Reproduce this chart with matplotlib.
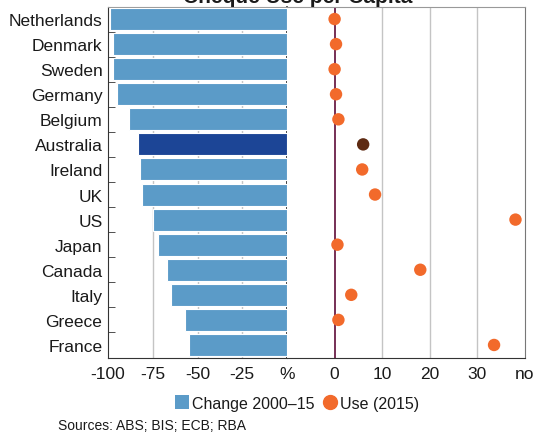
import matplotlib
matplotlib.use("Agg")
import matplotlib.pyplot as plt
from matplotlib.lines import Line2D
from matplotlib.patches import Patch

plt.rcParams['font.family'] = ['Liberation Sans', 'DejaVu Sans']
plt.rcParams['text.color'] = "#1a1a1a"
plt.rcParams['xtick.labelcolor'] = "#1a1a1a"
plt.rcParams['ytick.labelcolor'] = "#1a1a1a"

countries = ["Netherlands", "Denmark", "Sweden", "Germany", "Belgium", "Australia",
             "Ireland", "UK", "US", "Japan", "Canada", "Italy", "Greece", "France"]
change_2000_15 = [-99, -97, -97, -95, -88, -83, -82, -81, -75, -72, -67, -65, -57, -55]
use_2015 = [0.0, 0.3, 0.0, 0.3, 0.8, 6.0, 5.8, 8.5, 38.0, 0.6, 18.0, 3.5, 0.8, 33.5]
highlight = "Australia"

left_ticks = [-100, -75, -50, -25, 0]
left_ticklabels = ["-100", "-75", "-50", "-25", "%"]
right_ticks = [0, 10, 20, 30, 40]
right_ticklabels = ["0", "10", "20", "30", "no"]

light_blue = "#5b9bc8"
dark_blue = "#1c4596"
orange = "#f26a2b"
brown = "#5e2a12"
grid_col = "#c4c4c4"

fig = plt.figure(figsize=(5.35, 4.35), dpi=100)
ax1 = fig.add_axes([108 / 535, 76.5 / 435, 179 / 535, 351 / 435])
ax2 = fig.add_axes([287 / 535, 76.5 / 435, 238 / 535, 351 / 435])

ypos = list(range(len(countries)))

# bars: change 2000-15
bar_cols = [dark_blue if c == highlight else light_blue for c in countries]
ax1.barh(ypos, change_2000_15, height=0.88, color=bar_cols, edgecolor="white",
         linewidth=0.8, zorder=3)
ax1.set_xlim(-100, 0)
ax1.set_ylim(len(countries) - 0.5, -0.5)
ax1.set_xticks(left_ticks)
ax1.set_xticklabels(left_ticklabels)
ax1.set_yticks(ypos)
ax1.set_yticklabels(countries)
ax1.tick_params(axis="y", length=0, labelsize=12.5, pad=4)
ax1.tick_params(axis="x", length=0, labelsize=12.5, pad=6)
# minor ticks at row boundaries
ax1.set_yticks([y + 0.5 for y in ypos[:-1]], minor=True)
ax1.tick_params(axis="y", which="minor", direction="in", length=5, color="#333333")
for x in [-75, -50, -25]:
    ax1.axvline(x, color=grid_col, linewidth=1, zorder=1)
for s in ["left", "bottom"]:
    ax1.spines[s].set_color("#333333")
ax1.spines["top"].set_color("#999999")
ax1.spines["right"].set_color("#222222")
ax1.spines["right"].set_linewidth(1.2)

# dots: use 2015
dot_cols = [brown if c == highlight else orange for c in countries]
ax2.scatter(use_2015, ypos, s=80, color=dot_cols, zorder=4, linewidths=0)
ax2.set_xlim(-10, 40)
ax2.set_ylim(len(countries) - 0.5, -0.5)
ax2.set_xticks(right_ticks)
ax2.set_xticklabels(right_ticklabels)
ax2.set_yticks([])
ax2.tick_params(axis="x", length=0, labelsize=12.5, pad=6)
for x in [10, 20, 30]:
    ax2.axvline(x, color=grid_col, linewidth=1, zorder=1)
ax2.axvline(0, color="#6b1f48", linewidth=1.3, zorder=2)
ax2.spines["left"].set_visible(False)
ax2.spines["bottom"].set_color("#333333")
ax2.spines["top"].set_color("#999999")
ax2.spines["right"].set_color("#777777")

# title sits partly above the canvas, as in the original crop
fig.text(298 / 535, 1 - 3 / 435, "Cheque Use per Capita", ha="center", va="baseline",
         fontsize=15, fontweight="bold")

handles = [Patch(facecolor=light_blue, edgecolor="none", label="Change 2000\u201315"),
           Line2D([], [], marker="o", linestyle="none", markersize=10, color=orange,
                  label="Use (2015)")]
fig.legend(handles=handles, loc="center", bbox_to_anchor=(297 / 535, 31 / 435), ncol=2,
           frameon=False, fontsize=11.5, handlelength=0.9, handleheight=0.9,
           handletextpad=0.2, columnspacing=0.5, borderpad=0)

fig.text(58 / 535, 5 / 435, "Sources: ABS; BIS; ECB; RBA", ha="left", va="baseline",
         fontsize=10)

fig.savefig("out.png", dpi=100)
